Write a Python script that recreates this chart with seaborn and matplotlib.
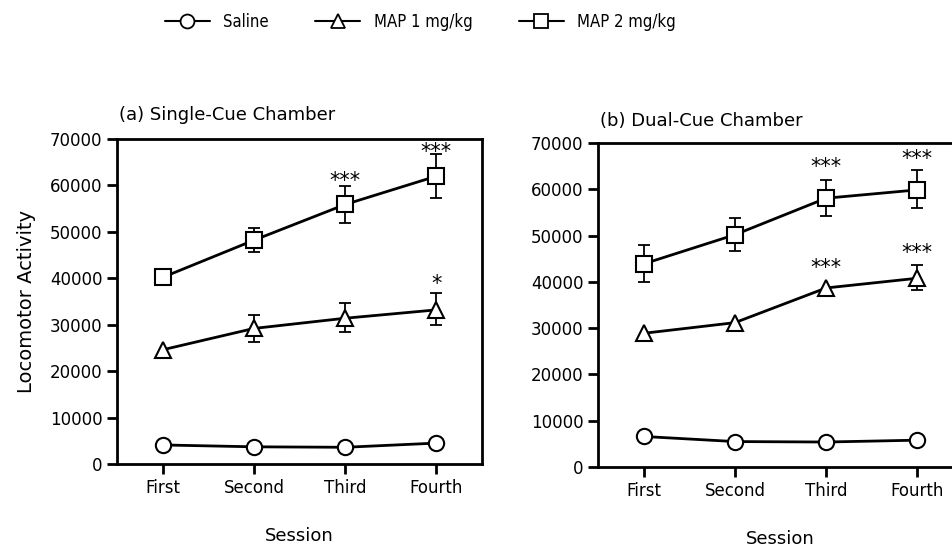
import numpy as np
import pandas as pd
import matplotlib
matplotlib.use("Agg")
import matplotlib.pyplot as plt
from matplotlib.lines import Line2D
from matplotlib.font_manager import FontProperties
import seaborn as sns

sessions = ["First", "Second", "Third", "Fourth"]
groups = ["Saline", "MAP 1 mg/kg", "MAP 2 mg/kg"]
markers = {"Saline": "o", "MAP 1 mg/kg": "^", "MAP 2 mg/kg": "s"}

# Panel (a) Single-Cue Chamber
a_saline = [4100, 3700, 3600, 4500]
a_map1 = [24600, 29200, 31400, 33200]
a_map2 = [40200, 48200, 55900, 62000]
a_map1_hi = [None, 32100, 34700, 36800]
a_map1_lo = [None, 26200, 28400, 30000]
a_map2_hi = [None, 50800, 59800, 66800]
a_map2_lo = [None, 45600, 51900, 57200]
a_stars = [("MAP 2 mg/kg", 2, "***", 61000), ("MAP 2 mg/kg", 3, "***", 67300),
           ("MAP 1 mg/kg", 3, "*", 38800)]

# Panel (b) Dual-Cue Chamber
b_saline = [6600, 5500, 5400, 5800]
b_map1 = [28900, 31200, 38700, 40800]
b_map2 = [43900, 50200, 58100, 59900]
b_map1_hi = [None, None, None, 43700]
b_map1_lo = [None, None, None, 38300]
b_map2_hi = [48000, 53800, 62100, 64100]
b_map2_lo = [40000, 46700, 54200, 55900]
b_stars = [("MAP 2 mg/kg", 2, "***", 64800), ("MAP 2 mg/kg", 3, "***", 66500),
           ("MAP 1 mg/kg", 2, "***", 43000), ("MAP 1 mg/kg", 3, "***", 46200)]

sns.set_style("ticks")
plt.rcParams["font.family"] = ["DejaVu Sans"]
plt.rcParams["text.color"] = "black"
plt.rcParams["axes.labelcolor"] = "black"

fig = plt.figure(figsize=(9.53, 5.48), dpi=100)
ax_a = fig.add_axes([0.1228, 0.1533, 0.383, 0.593])
ax_b = fig.add_axes([0.6275, 0.1478, 0.383, 0.591])


def make_df(vals):
    rows = []
    for g, v in zip(groups, vals):
        for i, s in enumerate(sessions):
            rows.append({"pos": i, "session": s, "group": g, "value": v[i]})
    return pd.DataFrame(rows)


def draw(ax, vals, errs, stars, title, tpad):
    df = make_df(vals)
    for g in groups:
        sub = df[df["group"] == g]
        sns.lineplot(data=sub, x="pos", y="value", ax=ax, color="black",
                     marker=markers[g], markersize=11,
                     markerfacecolor="white", markeredgecolor="black",
                     markeredgewidth=1.5, linewidth=2.0, zorder=3,
                     legend=False)
    for g, (hi, lo) in errs.items():
        v = vals[groups.index(g)]
        for i in range(4):
            if hi[i] is None:
                continue
            ax.errorbar([i], [v[i]], yerr=[[v[i] - lo[i]], [hi[i] - v[i]]],
                        fmt="none", ecolor="black", elinewidth=1.3,
                        capsize=4, capthick=1.3, zorder=2)
    for g, i, s, y in stars:
        ax.text(i, y, s, ha="center", va="center", fontsize=15, color="black")
    ax.set_xlim(-0.5, 3.5)
    ax.set_ylim(0, 70000)
    ax.set_xticks(range(4))
    ax.set_xticklabels(sessions)
    ax.set_yticks(np.arange(0, 70001, 10000))
    ax.tick_params(axis="both", direction="out", length=7, width=2,
                   labelsize=12, colors="black")
    for sp in ax.spines.values():
        sp.set_visible(True)
        sp.set_linewidth(2.0)
        sp.set_color("black")
    ax.set_xlabel("Session", fontsize=13, labelpad=22, color="black")
    ax.set_ylabel("")
    ax.set_title(title, loc="left", fontsize=13, pad=tpad, x=0.005, color="black")


draw(ax_a, [a_saline, a_map1, a_map2],
     {"MAP 1 mg/kg": (a_map1_hi, a_map1_lo), "MAP 2 mg/kg": (a_map2_hi, a_map2_lo)},
     a_stars, "(a) Single-Cue Chamber", 14)
draw(ax_b, [b_saline, b_map1, b_map2],
     {"MAP 1 mg/kg": (b_map1_hi, b_map1_lo), "MAP 2 mg/kg": (b_map2_hi, b_map2_lo)},
     b_stars, "(b) Dual-Cue Chamber", 12)
ax_a.set_ylabel("Locomotor Activity", fontsize=14, labelpad=10, color="black")

handles = [Line2D([], [], color="black", linewidth=1.5, marker=markers[g],
                  markersize=10, markerfacecolor="white", markeredgecolor="black",
                  markeredgewidth=1.3) for g in groups]
leg_font = FontProperties(family="DejaVu Sans", stretch="condensed", size=12)
leg = fig.legend(handles, groups, loc="center", bbox_to_anchor=(0.441, 0.96), ncol=3,
                 frameon=False, prop=leg_font, handlelength=2.7, handletextpad=0.8,
                 columnspacing=2.8)
for t in leg.get_texts():
    t.set_color("black")

fig.savefig("out.png", dpi=100)
